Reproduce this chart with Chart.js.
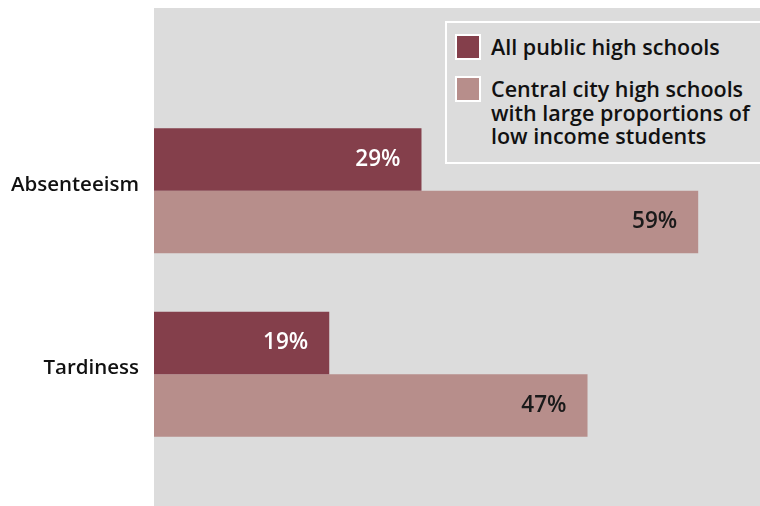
<!DOCTYPE html>
<html>
<head>
<meta charset="utf-8">
<script src="https://cdn.jsdelivr.net/npm/chart.js@4/dist/chart.umd.min.js"></script>
<style>
  html, body { margin: 0; padding: 0; background: #fff; }
  #wrap { position: relative; width: 760px; height: 506px; overflow: hidden; }
  #legend {
    position: absolute; left: 445px; top: 21px; width: 330px; height: 139px;
    border: 2px solid #fff; background: #dcdcdc;
    font-family: "Open Sans", sans-serif; font-weight: 600; font-size: 21.5px;
    line-height: 23.7px; color: #111;
  }
  #legend .item { position: absolute; left: 8px; display: flex; align-items: flex-start; }
  #legend .swatch { width: 22px; height: 22px; border: 2px solid #fff; margin-right: 10px; flex: none; }
  #legend .text { margin-top: 1px; white-space: nowrap; }
</style>
</head>
<body>
<div id="wrap">
  <canvas id="chart" width="760" height="506"></canvas>
  <div id="legend"></div>
</div>
<script>
// categories and series
const categories = ['Absenteeism', 'Tardiness'];
const allSchools = [29, 19];
const centralCity = [59, 47];
const seriesNames = ['All public high schools', 'Central city high schools\nwith large proportions of\nlow income students'];
const seriesColors = ['#843f4b', '#b78e8b'];
const valueColors = ['#ffffff', '#1a1a1a'];

// grey panel behind the bars, running to the right and bottom edges
const panel = {
    id: 'panel',
    beforeDraw(chart) {
        const ctx = chart.ctx;
        ctx.save();
        ctx.fillStyle = '#dcdcdc';
        ctx.fillRect(chart.chartArea.left, 8, chart.width - chart.chartArea.left, chart.height - 8);
        ctx.restore();
    }
};

// percentage written inside the end of each bar
const valueLabels = {
    id: 'valueLabels',
    afterDatasetsDraw(chart) {
        const ctx = chart.ctx;
        ctx.save();
        ctx.font = '600 22.5px "Open Sans", sans-serif';
        ctx.textAlign = 'right';
        ctx.textBaseline = 'middle';
        chart.data.datasets.forEach((ds, i) => {
            chart.getDatasetMeta(i).data.forEach((bar, j) => {
                ctx.fillStyle = valueColors[i];
                ctx.fillText(ds.data[j] + '%', bar.x - 21, bar.y);
            });
        });
        ctx.restore();
    }
};

const chart = new Chart(document.querySelector('#chart'), {
    type: 'bar',
    data: {
        labels: categories,
        datasets: [{
            label: seriesNames[0],
            data: allSchools,
            backgroundColor: seriesColors[0],
            borderWidth: 0
        }, {
            label: seriesNames[1],
            data: centralCity,
            backgroundColor: seriesColors[1],
            borderWidth: 0
        }]
    },
    options: {
        indexAxis: 'y',
        responsive: false,
        animation: false,
        layout: {
            padding: { top: 99, bottom: 40, right: 0, left: 0 }
        },
        datasets: {
            bar: {
                categoryPercentage: 0.68,
                barPercentage: 1
            }
        },
        plugins: {
            legend: { display: false },
            tooltip: { enabled: false }
        },
        scales: {
            x: {
                min: 0,
                max: 65.7,
                display: false
            },
            y: {
                border: { display: false },
                grid: { display: false, drawTicks: false },
                afterFit(scale) {
                    scale.width = 154;
                },
                ticks: {
                    color: '#111',
                    padding: 15,
                    labelOffset: -6,
                    font: {
                        family: '"Open Sans", sans-serif',
                        weight: '600',
                        size: 20.5
                    }
                }
            }
        }
    },
    plugins: [panel, valueLabels]
});

// legend built from the chart's datasets
const legend = document.querySelector('#legend');
const tops = [11, 53];
chart.data.datasets.forEach((ds, i) => {
    const item = document.createElement('div');
    item.className = 'item';
    item.style.top = tops[i] + 'px';
    const sw = document.createElement('span');
    sw.className = 'swatch';
    sw.style.background = ds.backgroundColor;
    const txt = document.createElement('span');
    txt.className = 'text';
    txt.innerHTML = ds.label.split('\n').join('<br>');
    item.appendChild(sw);
    item.appendChild(txt);
    legend.appendChild(item);
});
</script>
</body>
</html>
